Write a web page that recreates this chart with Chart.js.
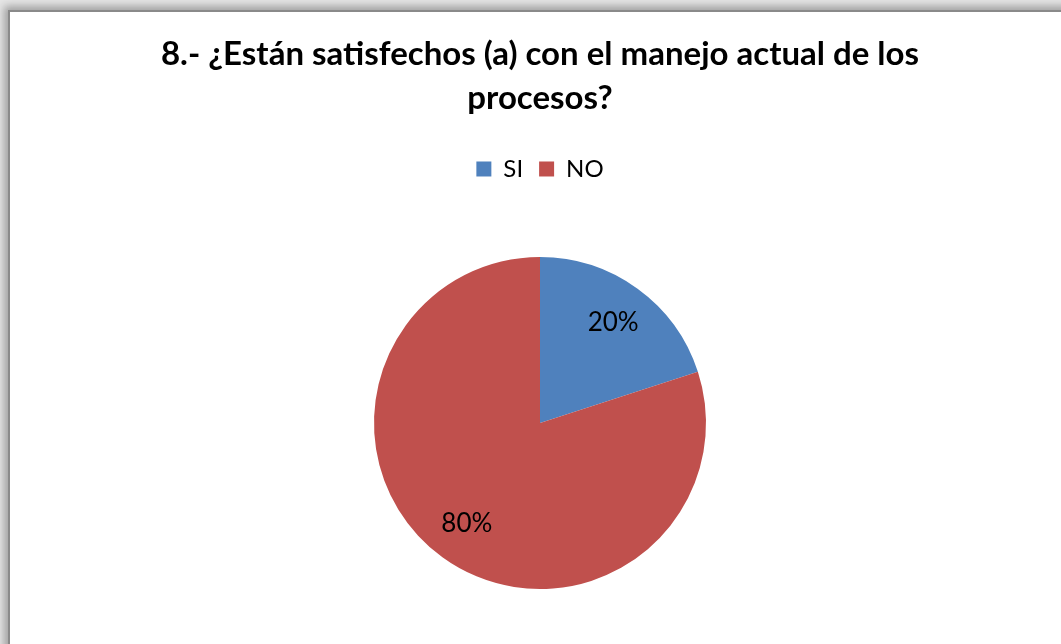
<!DOCTYPE html>
<html>
<head>
<meta charset="utf-8">
<script src="https://cdn.jsdelivr.net/npm/chart.js@4.4.1/dist/chart.umd.min.js"></script>
<style>
  html, body { margin: 0; padding: 0; background: #ffffff; overflow: hidden; }
  #wrap { position: relative; width: 1061px; height: 644px; overflow: hidden; background: #e6e6e6; }
  #frame { position: absolute; left: 8px; top: 10px; width: 1100px; height: 700px;
           background: #ffffff; border: 2px solid #8a8a8a;
           box-shadow: -4px -4px 8px rgba(0,0,0,0.30); }
  #c { position: absolute; left: 0; top: 0; }
</style>
</head>
<body>
<div id="wrap">
  <div id="frame"></div>
  <canvas id="c" width="1061" height="644"></canvas>
</div>
<script>
const titleLines = ["8.- ¿Están satisfechos (a) con el manejo actual de los", "procesos?"];
const categories = ["SI", "NO"];
const values = [20, 80];
const colors = ["#4F81BD", "#C0504D"];
const FONT = "Lato, 'Open Sans', sans-serif";

const legendSpacer = {
  id: 'legendSpacer',
  beforeInit(chart) {
    const origFit = chart.legend.fit;
    chart.legend.fit = function fit() {
      origFit.bind(chart.legend)();
      this.height = 116;
    };
  }
};

const pctLabels = {
  id: 'pctLabels',
  afterDatasetsDraw(chart) {
    const ctx = chart.ctx;
    const meta = chart.getDatasetMeta(0);
    const total = values.reduce((a, b) => a + b, 0);
    ctx.save();
    ctx.font = "26px " + FONT;
    ctx.fillStyle = "#000000";
    ctx.textAlign = "center";
    ctx.textBaseline = "middle";
    meta.data.forEach((arc, i) => {
      const mid = (arc.startAngle + arc.endAngle) / 2;
      const r = arc.outerRadius * 0.75;
      const x = arc.x + Math.cos(mid) * r;
      const y = arc.y + Math.sin(mid) * r;
      ctx.fillText(Math.round(values[i] / total * 100) + "%", x, y);
    });
    ctx.restore();
  }
};

new Chart(document.getElementById('c'), {
  type: 'pie',
  data: {
    labels: categories,
    datasets: [{
      data: values,
      backgroundColor: colors,
      borderWidth: 0
    }]
  },
  options: {
    responsive: false,
    animation: false,
    layout: { padding: { left: 19, right: 0, top: 0, bottom: 55 } },
    plugins: {
      title: {
        display: true,
        text: titleLines,
        color: "#000000",
        font: { family: FONT, size: 33, weight: 'bold', lineHeight: 1.318 },
        padding: { top: 33, bottom: 21 }
      },
      legend: {
        display: true,
        position: 'top',
        labels: {
          color: "#000000",
          font: { family: FONT, size: 24 },
          boxWidth: 15,
          boxHeight: 15,
          padding: 16
        }
      },
      tooltip: { enabled: false }
    }
  },
  plugins: [legendSpacer, pctLabels]
});
</script>
</body>
</html>
